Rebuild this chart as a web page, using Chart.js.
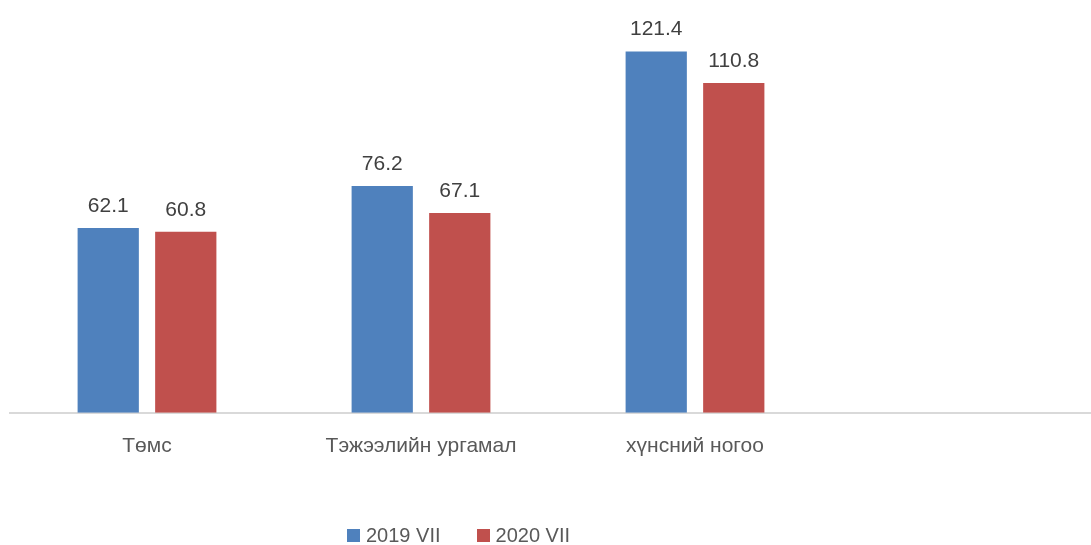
<!DOCTYPE html>
<html>
<head>
<meta charset="utf-8">
<script src="https://cdn.jsdelivr.net/npm/chart.js@4"></script>
<style>
html,body{margin:0;padding:0;background:#fff;overflow:hidden;width:1091px;height:545px;}
#wrap{position:absolute;left:0;top:0;width:1106px;height:545px;}
#legend{position:absolute;top:524px;left:347px;font-family:"Liberation Sans",Arial,sans-serif;font-size:20px;color:#595959;white-space:nowrap;}
#legend span.item{display:inline-block;margin-right:36px;}
#legend span.sw{display:inline-block;width:13px;height:13px;margin-right:6px;vertical-align:0px;}
</style>
</head>
<body>
<div id="wrap"><canvas id="c"></canvas></div>
<div id="legend"></div>
<script>
const categories = ["Төмс", "Тэжээлийн ургамал", "хүнсний ногоо", ""];
const seriesNames = ["2019 VII", "2020 VII"];
const values2019 = [62.1, 76.2, 121.4, null];
const values2020 = [60.8, 67.1, 110.8, null];
const colors = ["#4F81BD", "#C0504D"];

const legendEl = document.getElementById('legend');
seriesNames.forEach((n, i) => {
  const it = document.createElement('span');
  it.className = 'item';
  const sw = document.createElement('span');
  sw.className = 'sw';
  sw.style.background = colors[i];
  it.appendChild(sw);
  it.appendChild(document.createTextNode(n));
  legendEl.appendChild(it);
});

const labelPlugin = {
  id: 'valueLabels',
  afterDatasetsDraw(chart) {
    const ctx = chart.ctx;
    ctx.save();
    ctx.font = '21px "Liberation Sans", Arial, sans-serif';
    ctx.fillStyle = '#404040';
    ctx.textAlign = 'center';
    ctx.textBaseline = 'alphabetic';
    chart.data.datasets.forEach((ds, di) => {
      const meta = chart.getDatasetMeta(di);
      meta.data.forEach((bar, i) => {
        const v = ds.data[i];
        if (v == null) return;
        ctx.fillText(v.toFixed(1), bar.x, bar.y - 16);
      });
    });
    ctx.restore();
  }
};

new Chart(document.getElementById('c'), {
  type: 'bar',
  data: {
    labels: categories,
    datasets: [
      { label: seriesNames[0], data: values2019, backgroundColor: colors[0] },
      { label: seriesNames[1], data: values2020, backgroundColor: colors[1] }
    ]
  },
  options: {
    responsive: true,
    maintainAspectRatio: false,
    animation: false,
    layout: { padding: { left: 10, right: 0, top: 11, bottom: 65 } },
    datasets: { bar: { categoryPercentage: 0.566, barPercentage: 0.79 } },
    plugins: { legend: { display: false }, tooltip: { enabled: false } },
    scales: {
      x: {
        grid: { display: false, drawTicks: false },
        border: { color: '#D9D9D9', width: 2 },
        ticks: { color: '#595959', padding: 21, font: { family: '"Liberation Sans", Arial, sans-serif', size: 21 } }
      },
      y: {
        display: false,
        min: 0,
        max: 135
      }
    }
  },
  plugins: [labelPlugin]
});
</script>
</body>
</html>
